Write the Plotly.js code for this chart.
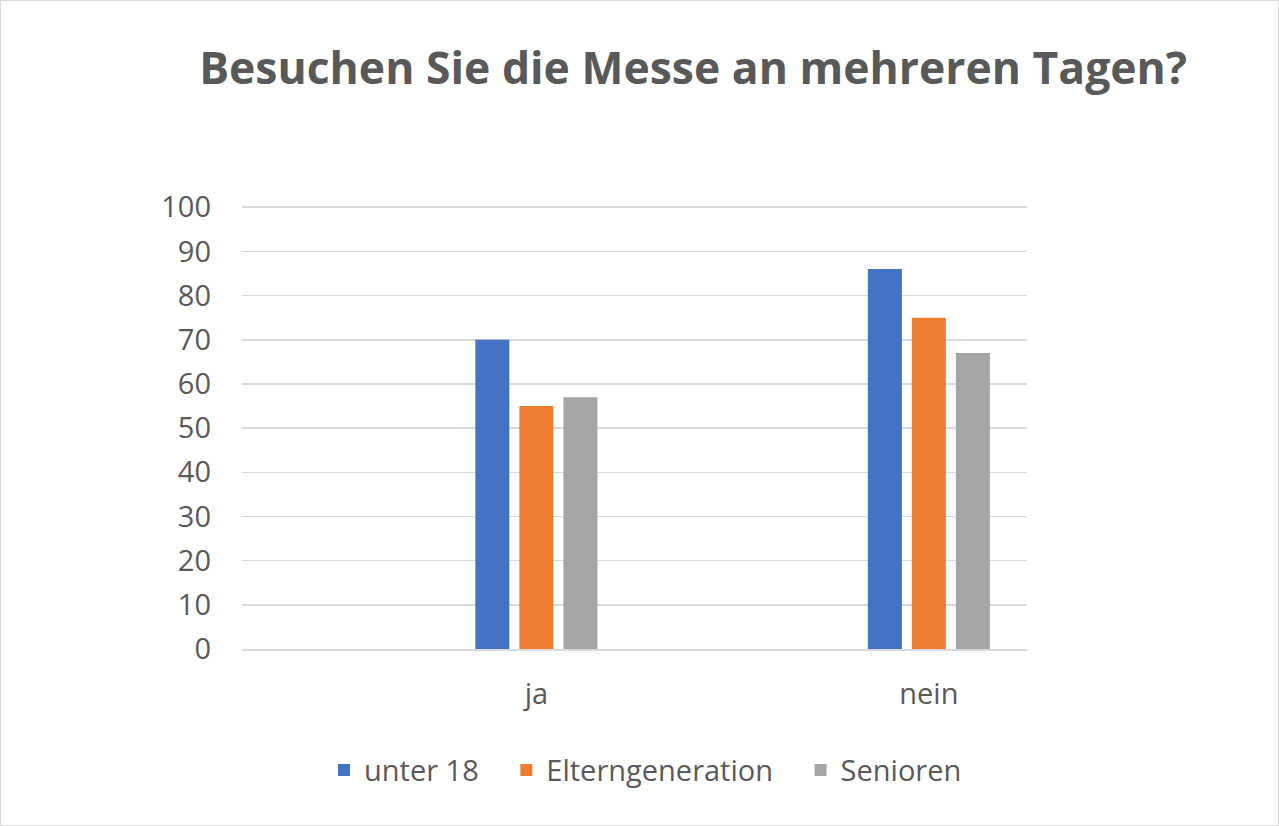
<!DOCTYPE html>
<html>
<head>
<meta charset="utf-8">
<script src="https://cdn.plot.ly/plotly-3.0.1.min.js"></script>
<style>
html,body{margin:0;padding:0;background:#fff;}
#chart{width:1277px;height:824px;border:1px solid #d9d9d9;}
</style>
</head>
<body>
<div id="chart"></div>
<script>
const categories = ["", "ja", " ", "nein"];
const seriesNames = ["unter 18", "Elterngeneration", "Senioren"];
const unter18 = [null, 70, null, 86];
const elterngeneration = [null, 55, null, 75];
const senioren = [null, 57, null, 67];
const yTicks = [0, 10, 20, 30, 40, 50, 60, 70, 80, 90, 100];
const colors = ["#4472C4", "#ED7D31", "#A5A5A5"];

const values = [unter18, elterngeneration, senioren];
const traces = values.map((v, i) => ({
  type: "bar",
  name: seriesNames[i] + (i < seriesNames.length - 1 ? "&nbsp;&nbsp;&nbsp;" : ""),
  x: categories,
  y: v,
  marker: {color: colors[i]},
  hoverinfo: "x+y"
}));

const font = "Open Sans, Noto Sans, sans-serif";
const layout = {
  width: 1277,
  height: 824,
  paper_bgcolor: "#ffffff",
  plot_bgcolor: "#ffffff",
  margin: {l: 241, r: 251, t: 204, b: 176},
  title: {
    text: "<b>Besuchen Sie die Messe an mehreren Tagen?</b>",
    font: {family: font, size: 44.5, color: "#595959"},
    x: 0.542, xanchor: "center",
    y: 0.918, yanchor: "middle"
  },
  barmode: "group",
  bargap: 0.327,
  bargroupgap: 0.227,
  xaxis: {
    type: "category",
    categoryorder: "array",
    categoryarray: categories,
    showgrid: false,
    showline: true,
    linecolor: "#d9d9d9",
    linewidth: 1.5,
    ticks: "",
    ticklabelstandoff: 19,
    tickfont: {family: font, size: 29, color: "#595959"},
    fixedrange: true
  },
  yaxis: {
    range: [0, 100.5],
    tickvals: yTicks,
    showgrid: true,
    gridcolor: "#d9d9d9",
    gridwidth: 1.5,
    zeroline: false,
    showline: false,
    ticks: "",
    ticklabelstandoff: 30,
    tickfont: {family: font, size: 29, color: "#595959"},
    fixedrange: true
  },
  showlegend: true,
  legend: {
    orientation: "h",
    x: 0.514, xanchor: "center",
    y: -0.273, yanchor: "middle",
    font: {family: font, size: 29, color: "#595959"},
    itemwidth: 30,
    tracegroupgap: 0
  }
};

Plotly.newPlot("chart", traces, layout, {displayModeBar: false, staticPlot: true});
</script>
</body>
</html>
